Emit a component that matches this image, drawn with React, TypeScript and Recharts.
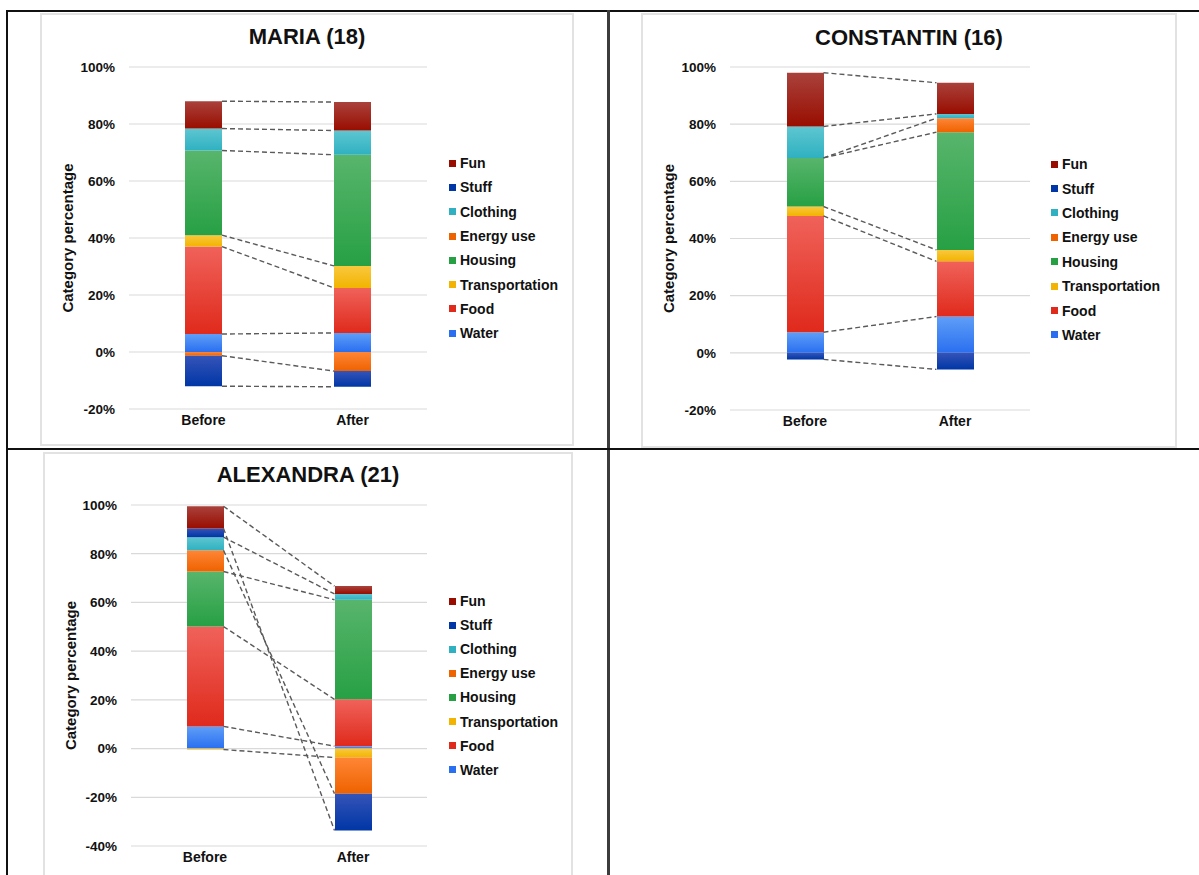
import React from "react";
import { ComposedChart, Bar, XAxis, YAxis, CartesianGrid, ReferenceLine, Legend } from "recharts";

const CATEGORIES = ["Before", "After"];
// stacking order (bottom to top); the legend lists them reversed
const SERIES_KEYS = ["water", "food", "transport", "housing", "energy", "clothing", "stuff", "fun"];
const SERIES_NAMES = ["Water", "Food", "Transportation", "Housing", "Energy use", "Clothing", "Stuff", "Fun"];

// percentages per category, in SERIES_KEYS order
const mariaBefore = [6.3, 30.7, 4.0, 29.7, -1.3, 7.7, -10.7, 9.6];
const mariaAfter = [6.7, 15.8, 7.7, 39.0, -6.7, 8.5, -5.5, 10.0];
const constantinBefore = [7.2, 40.7, 3.3, 17.0, 0, 11.0, -2.3, 18.8];
const constantinAfter = [12.7, 19.3, 4.0, 41.2, 4.9, 1.5, -5.8, 10.9];
const alexandraBefore = [9.1, 41.0, -0.4, 22.6, 8.7, 5.4, 3.6, 9.1];
const alexandraAfter = [1.0, 19.2, -3.7, 40.9, -14.8, 2.4, -15.1, 3.2];

const PCT_TICKS = [-20, 0, 20, 40, 60, 80, 100];
const PCT_TICKS_WIDE = [-40, -20, 0, 20, 40, 60, 80, 100];

// light (top) / dark (bottom) shade of each series, excel style gradient
const SHADES: Record<string, [string, string]> = {
  water: ["#5f9ef7", "#2a6ff0"],
  food: ["#f0625a", "#df2a1c"],
  transport: ["#f9c83e", "#f2b400"],
  housing: ["#58b56c", "#27a044"],
  energy: ["#ff8636", "#ee6200"],
  clothing: ["#5ec6d1", "#2fb1c1"],
  stuff: ["#3554b8", "#0036a6"],
  fun: ["#a9423c", "#990d00"],
};

const FONT = "'Liberation Sans', Arial, sans-serif";
const TEXT = "#111";
const BAR_W = 37;

function stackEnds(vals: number[]) {
  let pos = 0;
  let neg = 0;
  return vals.map((v) => (v >= 0 ? (pos += v) : (neg += v)));
}

type Box = { left: number; top: number; width: number; height: number };

function StackPanel(props: {
  id: string;
  title: string;
  before: number[];
  after: number[];
  ticks: number[];
  frame: Box;
  margin: { top: number; right: number; bottom: number; left: number };
  yAxisWidth: number;
  titleTop: number;
  legend: { left: number; top: number; step: number };
}) {
  const { id, title, before, after, ticks, frame, margin, yAxisWidth, titleTop, legend } = props;

  const rows = CATEGORIES.map((name, i) => {
    const vals = i === 0 ? before : after;
    const row: Record<string, any> = { pos: i + 0.5, name };
    SERIES_KEYS.forEach((k, j) => (row[k] = vals[j]));
    return row;
  });

  const plotW = frame.width - margin.left - yAxisWidth - margin.right;
  const hw = BAR_W / plotW; // half a bar, in x-axis units (axis spans 2)
  const endsBefore = stackEnds(before);
  const endsAfter = stackEnds(after);

  const renderLegend = () => (
    <div style={{ fontFamily: FONT, fontWeight: 700, fontSize: 14, color: TEXT }}>
      {SERIES_KEYS.map((k, i) => ({ k, name: SERIES_NAMES[i] }))
        .reverse()
        .map((s) => (
          <div key={s.k} style={{ display: "flex", alignItems: "center", height: legend.step }}>
            <span style={{ width: 7, height: 7, background: SHADES[s.k][1], marginRight: 4 }} />
            <span>{s.name}</span>
          </div>
        ))}
    </div>
  );

  return (
    <>
      <div
        style={{
          position: "absolute",
          left: frame.left,
          top: frame.top,
          width: frame.width,
          height: frame.height,
          border: "2px solid #e2e2e2",
          boxSizing: "border-box",
        }}
      />
      <div
        style={{
          position: "absolute",
          left: frame.left,
          top: frame.top + titleTop,
          width: frame.width,
          textAlign: "center",
          fontFamily: FONT,
          fontWeight: 700,
          fontSize: 22,
          lineHeight: "26px",
          color: TEXT,
        }}
      >
        {title}
      </div>
      <div style={{ position: "absolute", left: frame.left, top: frame.top }}>
        <ComposedChart width={frame.width} height={frame.height} data={rows} margin={margin} stackOffset="sign">
          <defs>
            {SERIES_KEYS.map((k) => (
              <linearGradient key={k} id={`${id}-${k}`} x1="0" y1="0" x2="0" y2="1">
                <stop offset="0%" stopColor={SHADES[k][0]} />
                <stop offset="100%" stopColor={SHADES[k][1]} />
              </linearGradient>
            ))}
          </defs>
          <CartesianGrid vertical={false} stroke="#d9d9d9" strokeWidth={1.2} />
          <XAxis
            type="number"
            dataKey="pos"
            domain={[0, 2]}
            ticks={[0.5, 1.5]}
            allowDataOverflow
            interval={0}
            tickFormatter={(v: number) => CATEGORIES[Math.floor(v)]}
            axisLine={false}
            tickLine={false}
            height={30}
            tickMargin={0}
            tick={{ fontSize: 14, fontWeight: 700, fill: TEXT, fontFamily: FONT }}
          />
          <YAxis
            type="number"
            domain={[ticks[0], ticks[ticks.length - 1]]}
            ticks={ticks}
            interval={0}
            tickFormatter={(v: number) => `${v}%`}
            axisLine={false}
            tickLine={false}
            width={yAxisWidth}
            tickMargin={8}
            tick={{ fontSize: 13.5, fontWeight: 700, fill: TEXT, fontFamily: FONT }}
            label={{
              value: "Category percentage",
              angle: -90,
              position: "insideLeft",
              offset: 18,
              style: { textAnchor: "middle", fontSize: 15, fontWeight: 700, fill: TEXT, fontFamily: FONT },
            }}
          />
          {SERIES_KEYS.map((k, i) => (
            <Bar
              key={k}
              dataKey={k}
              name={SERIES_NAMES[i]}
              stackId="s"
              barSize={BAR_W}
              fill={`url(#${id}-${k})`}
              isAnimationActive={false}
            />
          ))}
          {SERIES_KEYS.map((k, i) => (
            <ReferenceLine
              key={`line-${k}`}
              segment={[
                { x: 0.5 + hw, y: endsBefore[i] },
                { x: 1.5 - hw, y: endsAfter[i] },
              ]}
              stroke="#5a5a5a"
              strokeWidth={1.4}
              strokeDasharray="5 3"
              ifOverflow="visible"
            />
          ))}
          <Legend
            layout="vertical"
            align="center"
            verticalAlign="middle"
            content={renderLegend}
            wrapperStyle={{ left: legend.left, top: legend.top, width: 140 }}
          />
        </ComposedChart>
      </div>
    </>
  );
}

export default function App() {
  const line = (s: React.CSSProperties) => <div style={{ position: "absolute", ...s }} />;
  return (
    <div
      style={{
        position: "absolute",
        left: 0,
        top: 0,
        width: 1199,
        height: 875,
        overflow: "hidden",
        background: "#fff",
      }}
    >
      {line({ left: 6, top: 10, width: 1193, height: 2, background: "#111" })}
      {line({ left: 6, top: 10, width: 2, height: 865, background: "#111" })}
      {line({ left: 607, top: 10, width: 3, height: 865, background: "#3c3c3c" })}
      {line({ left: 6, top: 448, width: 1193, height: 2, background: "#111" })}

      <StackPanel
        id="maria"
        title="MARIA (18)"
        before={mariaBefore}
        after={mariaAfter}
        ticks={PCT_TICKS}
        frame={{ left: 40, top: 13, width: 534, height: 433 }}
        margin={{ top: 54, right: 147, bottom: 7, left: 10 }}
        yAxisWidth={79}
        titleTop={11}
        legend={{ left: 409, top: 138, step: 24.3 }}
      />
      <StackPanel
        id="constantin"
        title="CONSTANTIN (16)"
        before={constantinBefore}
        after={constantinAfter}
        ticks={PCT_TICKS}
        frame={{ left: 641, top: 13, width: 536, height: 435 }}
        margin={{ top: 54, right: 147, bottom: 8, left: 10 }}
        yAxisWidth={79}
        titleTop={12}
        legend={{ left: 410, top: 139, step: 24.4 }}
      />
      <StackPanel
        id="alexandra"
        title="ALEXANDRA (21)"
        before={alexandraBefore}
        after={alexandraAfter}
        ticks={PCT_TICKS_WIDE}
        frame={{ left: 43, top: 452, width: 530, height: 438 }}
        margin={{ top: 53, right: 146, bottom: 14, left: 10 }}
        yAxisWidth={78}
        titleTop={10}
        legend={{ left: 406, top: 137, step: 24.1 }}
      />
    </div>
  );
}
